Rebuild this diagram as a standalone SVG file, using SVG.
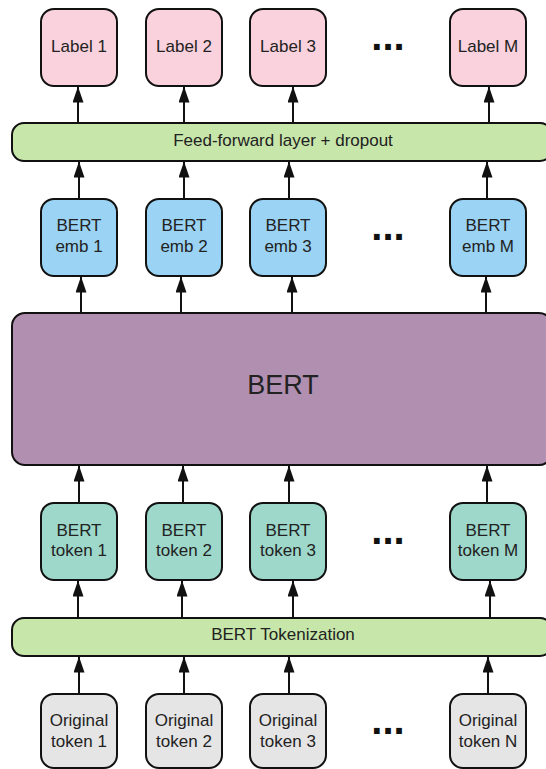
<svg xmlns="http://www.w3.org/2000/svg" width="546" height="769" viewBox="0 0 546 769">
<style>
text{font-family:"Liberation Sans",Arial,sans-serif;font-size:17px;fill:#222;text-anchor:middle}
.box{stroke:#111;stroke-width:2}
.lab{fill:#f9d2dd}
.ff{fill:#c7e6aa}
.emb{fill:#9ad3f3}
.bert{fill:#b18fb1}
.tok{fill:#9dd8ca}
.orig{fill:#e5e5e5}
.dots{font-size:40px;font-weight:bold;fill:#111}
.big{font-size:27px}
#connectors line{stroke:#111;stroke-width:2;marker-end:url(#ah)}
</style>
<defs>
<marker id="ah" markerUnits="userSpaceOnUse" markerWidth="16" markerHeight="11" refX="15.5" refY="5.5" orient="auto" viewBox="0 0 16 11">
<path d="M0,0 L16,5.5 L0,11 Z" fill="#111"/>
</marker>
</defs>
<rect width="546" height="769" fill="#fff"/>
<g id="connectors">
<line x1="78" y1="123" x2="78" y2="87"/>
<line x1="184" y1="123" x2="184" y2="87"/>
<line x1="293" y1="123" x2="293" y2="87"/>
<line x1="489" y1="123" x2="489" y2="87"/>
<line x1="79" y1="199" x2="79" y2="162"/>
<line x1="184" y1="199" x2="184" y2="162"/>
<line x1="289" y1="199" x2="289" y2="162"/>
<line x1="487" y1="199" x2="487" y2="162"/>
<line x1="81" y1="313" x2="81" y2="277"/>
<line x1="181" y1="313" x2="181" y2="277"/>
<line x1="292" y1="313" x2="292" y2="277"/>
<line x1="486" y1="313" x2="486" y2="277"/>
<line x1="79" y1="503" x2="79" y2="466"/>
<line x1="183" y1="503" x2="183" y2="466"/>
<line x1="289" y1="503" x2="289" y2="466"/>
<line x1="487" y1="503" x2="487" y2="466"/>
<line x1="78" y1="618" x2="78" y2="581"/>
<line x1="182" y1="618" x2="182" y2="581"/>
<line x1="293" y1="618" x2="293" y2="581"/>
<line x1="490" y1="618" x2="490" y2="581"/>
<line x1="79" y1="694" x2="79" y2="657"/>
<line x1="184" y1="694" x2="184" y2="657"/>
<line x1="289" y1="694" x2="289" y2="657"/>
<line x1="488" y1="694" x2="488" y2="657"/>
</g>
<g id="label1"><rect class="box lab" x="41" y="9" width="76" height="77" rx="13"/><text x="79" y="52">Label 1</text></g>
<g id="label2"><rect class="box lab" x="146" y="9" width="76" height="77" rx="13"/><text x="184" y="52">Label 2</text></g>
<g id="label3"><rect class="box lab" x="250" y="9" width="76" height="77" rx="13"/><text x="288" y="52">Label 3</text></g>
<g id="labeldots"><text class="dots" x="388" y="50">...</text></g>
<g id="labelM"><rect class="box lab" x="450" y="9" width="76" height="77" rx="13"/><text x="488" y="52">Label M</text></g>
<g id="ff"><rect class="box ff" x="12" y="123" width="540" height="38" rx="12"/><text x="283" y="146">Feed-forward layer + dropout</text></g>
<g id="emb1"><rect class="box emb" x="41" y="199" width="76" height="77" rx="13"/><text x="79" y="231">BERT</text><text x="79" y="252">emb 1</text></g>
<g id="emb2"><rect class="box emb" x="146" y="199" width="76" height="77" rx="13"/><text x="184" y="231">BERT</text><text x="184" y="252">emb 2</text></g>
<g id="emb3"><rect class="box emb" x="250" y="199" width="76" height="77" rx="13"/><text x="288" y="231">BERT</text><text x="288" y="252">emb 3</text></g>
<g id="embdots"><text class="dots" x="388" y="240">...</text></g>
<g id="embM"><rect class="box emb" x="450" y="199" width="76" height="77" rx="13"/><text x="488" y="231">BERT</text><text x="488" y="252">emb M</text></g>
<g id="bert"><rect class="box bert" x="12" y="313" width="540" height="152" rx="13"/><text class="big" x="283" y="394">BERT</text></g>
<g id="tok1"><rect class="box tok" x="41" y="503" width="76" height="77" rx="13"/><text x="79" y="535.5">BERT</text><text x="79" y="556">token 1</text></g>
<g id="tok2"><rect class="box tok" x="146" y="503" width="76" height="77" rx="13"/><text x="184" y="535.5">BERT</text><text x="184" y="556">token 2</text></g>
<g id="tok3"><rect class="box tok" x="250" y="503" width="76" height="77" rx="13"/><text x="288" y="535.5">BERT</text><text x="288" y="556">token 3</text></g>
<g id="tokdots"><text class="dots" x="388" y="544">...</text></g>
<g id="tokM"><rect class="box tok" x="450" y="503" width="76" height="77" rx="13"/><text x="488" y="535.5">BERT</text><text x="488" y="556">token M</text></g>
<g id="tokenization"><rect class="box ff" x="12" y="618" width="540" height="38" rx="12"/><text x="283" y="640">BERT Tokenization</text></g>
<g id="orig1"><rect class="box orig" x="41" y="694" width="76" height="74" rx="13"/><text x="79" y="726">Original</text><text x="79" y="746.5">token 1</text></g>
<g id="orig2"><rect class="box orig" x="146" y="694" width="76" height="74" rx="13"/><text x="184" y="726">Original</text><text x="184" y="746.5">token 2</text></g>
<g id="orig3"><rect class="box orig" x="250" y="694" width="76" height="74" rx="13"/><text x="288" y="726">Original</text><text x="288" y="746.5">token 3</text></g>
<g id="origdots"><text class="dots" x="388" y="734">...</text></g>
<g id="origN"><rect class="box orig" x="450" y="694" width="76" height="74" rx="13"/><text x="488" y="726">Original</text><text x="488" y="746.5">token N</text></g>
</svg>
